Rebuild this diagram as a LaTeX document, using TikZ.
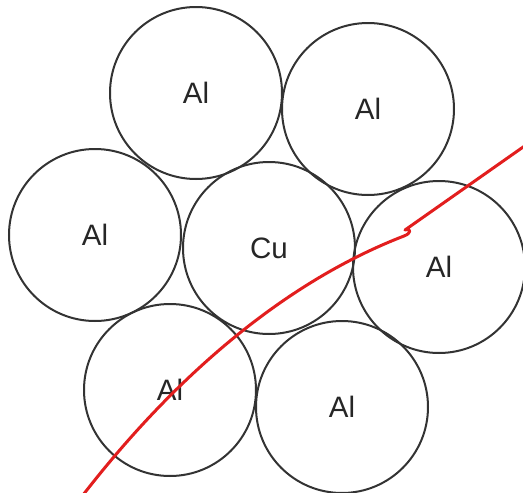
\documentclass[tikz,border=0pt]{standalone}
\usepackage{fontspec}
\setmainfont{Liberation Sans}
\begin{document}
\begin{tikzpicture}[x=1pt,y=-1pt,
  atom/.style={circle,draw=black!80,line width=2pt,minimum size=172pt,inner sep=0pt,
    text=black!85,font=\fontsize{29.5}{29.5}\selectfont},
  cut/.style={draw={rgb,255:red,226;green,30;blue,30},line width=3pt,line join=round}]
\useasboundingbox (0,0) rectangle (523,493);
\clip (0,0) rectangle (523,493);
\node[atom] (tl) at (196,93) {Al};
\node[atom] (tr) at (368,109) {Al};
\node[atom] (l) at (95,235) {Al};
\node[atom] (cu) at (269,248) {Cu};
\node[atom] (r) at (439,267) {Al};
\node[atom] (bl) at (170,390) {Al};
\node[atom] (br) at (342,407) {Al};
\coordinate (c0) at (83,495);
\coordinate (c1) at (404,236);
\coordinate (c2) at (405,230);
\coordinate (c3) at (526,145);
\draw[cut] (c0) .. controls (180,370) and (290,280) .. (c1)
  .. controls (412,233) and (411,228) .. (c2) -- (c3);
\end{tikzpicture}
\end{document}
